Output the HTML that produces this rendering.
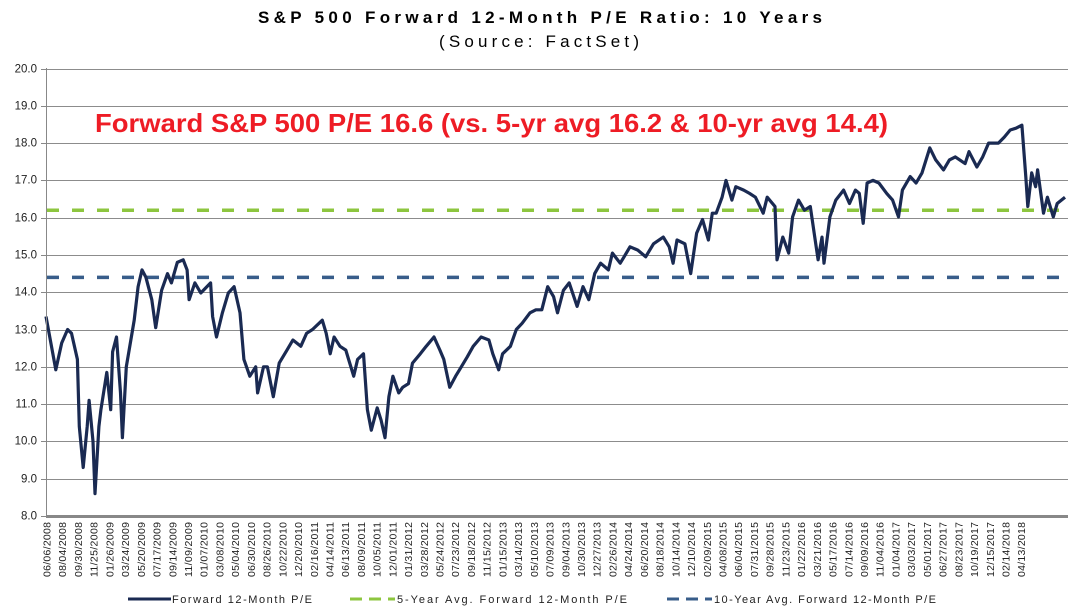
<!DOCTYPE html>
<html><head><meta charset="utf-8"><style>
body{margin:0;background:#fff;}
svg{display:block;font-family:"Liberation Sans",Arial,sans-serif;}
</style></head><body>
<svg id="chart" width="1078" height="615" viewBox="0 0 1078 615">
<text x="258" y="23" textLength="564" lengthAdjust="spacing" font-size="17" font-weight="bold" fill="#000">S&amp;P 500 Forward 12-Month P/E Ratio: 10 Years</text>
<text x="439" y="47" textLength="200" lengthAdjust="spacing" font-size="17" fill="#000">(Source: FactSet)</text>
<g id="grid"></g>
<g id="yticks"></g>
<g id="avgs"></g>
<path id="pe" fill="none" stroke="#1a2a52" stroke-width="3.2" stroke-linejoin="round"/>
<line x1="46" y1="516.5" x2="1068" y2="516.5" stroke="#888" stroke-width="3"/>
<line x1="46.5" y1="68" x2="46.5" y2="516" stroke="#888" stroke-width="1"/>
<g id="xlabels"></g>
<text x="95" y="132" textLength="793" lengthAdjust="spacingAndGlyphs" font-size="26" font-weight="bold" fill="#ee1c25">Forward S&amp;P 500 P/E 16.6 (vs. 5-yr avg 16.2 &amp; 10-yr avg 14.4)</text>
<g>
<g>
<line x1="128" y1="599" x2="171" y2="599" stroke="#1a2a52" stroke-width="3"/>
<text x="172" y="603" textLength="140" lengthAdjust="spacing" font-size="11" fill="#222">Forward 12-Month P/E</text></g>
<g>
<line x1="350" y1="599" x2="395" y2="599" stroke="#8dc63f" stroke-width="3" stroke-dasharray="12,7"/>
<text x="397" y="603" textLength="230" lengthAdjust="spacing" font-size="11" fill="#222">5-Year Avg. Forward 12-Month P/E</text></g>
<g>
<line x1="667" y1="599" x2="712" y2="599" stroke="#385d8a" stroke-width="3" stroke-dasharray="12,7"/>
<text x="714" y="603" textLength="222" lengthAdjust="spacing" font-size="11" fill="#222">10-Year Avg. Forward 12-Month P/E</text></g>
</g>
</svg>
<script>
const yTicks=[8,9,10,11,12,13,14,15,16,17,18,19,20];
const dateLabels=["06/06/2008","08/04/2008","09/30/2008","11/25/2008","01/26/2009","03/24/2009","05/20/2009","07/17/2009","09/14/2009","11/09/2009","01/07/2010","03/08/2010","05/04/2010","06/30/2010","08/26/2010","10/22/2010","12/20/2010","02/16/2011","04/14/2011","06/13/2011","08/09/2011","10/05/2011","12/01/2011","01/31/2012","03/28/2012","05/24/2012","07/23/2012","09/18/2012","11/15/2012","01/15/2013","03/14/2013","05/10/2013","07/09/2013","09/04/2013","10/30/2013","12/27/2013","02/26/2014","04/24/2014","06/20/2014","08/18/2014","10/14/2014","12/10/2014","02/09/2015","04/08/2015","06/04/2015","07/31/2015","09/28/2015","11/23/2015","01/22/2016","03/21/2016","05/17/2016","07/14/2016","09/09/2016","11/04/2016","01/04/2017","03/03/2017","05/01/2017","06/27/2017","08/23/2017","10/19/2017","12/15/2017","02/14/2018","04/13/2018"];
const weeks=[0,5,8,11,13,16,17,19,21,22,24,25,27,28,31,33,34,36,38,39,41,45,47,49,51,54,56,59,62,64,67,70,72,73,76,79,84,85,87,90,93,96,99,101,104,107,108,111,113,116,119,123,126,130,133,136,141,143,145,147,150,153,157,159,162,164,166,169,171,173,175,177,180,182,185,187,191,194,198,201,203,206,209,211,215,218,222,226,228,231,233,237,240,243,247,250,253,256,259,261,264,267,271,274,277,280,283,287,289,293,295,298,302,306,310,315,318,320,322,326,329,332,335,338,340,342,345,347,350,352,356,359,362,366,368,372,373,376,379,381,384,387,390,392,394,396,397,400,403,407,410,413,415,417,419,422,425,429,432,435,437,441,444,447,451,454,458,461,464,469,471,475,478,481,486,489,492,495,498,500,501,503,505,506,509,511,514,516,520];
const peValues=[13.35,11.92,12.64,13.0,12.9,12.2,10.4,9.3,10.4,11.1,10.0,8.6,10.4,10.85,11.85,10.85,12.4,12.8,11.3,10.1,12.0,13.25,14.15,14.6,14.4,13.8,13.05,14.05,14.5,14.25,14.8,14.87,14.6,13.8,14.25,13.98,14.25,13.35,12.8,13.45,13.98,14.15,13.45,12.2,11.75,12.0,11.3,12.0,12.0,11.2,12.1,12.45,12.72,12.55,12.9,13.0,13.25,12.9,12.35,12.8,12.55,12.45,11.75,12.2,12.35,10.85,10.3,10.9,10.57,10.1,11.2,11.75,11.3,11.45,11.55,12.1,12.35,12.55,12.8,12.45,12.2,11.45,11.75,11.92,12.27,12.55,12.8,12.72,12.35,11.92,12.35,12.55,13.0,13.17,13.45,13.53,13.53,14.15,13.88,13.45,14.05,14.25,13.62,14.15,13.8,14.5,14.78,14.6,15.05,14.78,14.95,15.22,15.13,14.95,15.3,15.48,15.22,14.78,15.4,15.3,14.5,15.58,15.95,15.4,16.12,16.12,16.55,17.0,16.47,16.83,16.74,16.65,16.55,16.12,16.55,16.3,14.87,15.48,15.05,16.02,16.47,16.2,16.3,15.58,14.87,15.48,14.78,16.02,16.47,16.74,16.38,16.74,16.65,15.85,16.93,17.0,16.93,16.65,16.47,16.02,16.74,17.1,16.93,17.2,17.87,17.55,17.28,17.55,17.63,17.45,17.77,17.36,17.63,18.0,18.0,18.16,18.35,18.4,18.48,17.1,16.3,17.2,16.83,17.28,16.12,16.55,16.02,16.38,16.55,16.6];
const avg5=16.2, avg10=14.4;

const NS="http://www.w3.org/2000/svg";
const X0=46,X1=1067,Y0=516,Y1=68.5,WMAX=521;
function xScale(w){return X0+(w/WMAX)*(X1-X0);}
function yScale(v){return Y0-(v-8)/(20-8)*(Y0-Y1);}
function labelX(i){return 47+i*(1021.7-47)/(dateLabels.length-1);}
function mk(tag,attrs,parent){const e=document.createElementNS(NS,tag);for(const k in attrs)e.setAttribute(k,attrs[k]);parent.appendChild(e);return e;}

const grid=document.getElementById('grid'),yt=document.getElementById('yticks');
yTicks.forEach(t=>{
  const y=Math.round(yScale(t))+0.5;
  if(t>8){const l=mk('line',{x1:X0,x2:1068,y1:y,y2:y,stroke:'#8c8c8c','stroke-width':1},grid);
  
  }
  const tk=mk('line',{x1:41,x2:46,y1:y,y2:y,stroke:'#888'},yt);
  
  
  const tx=mk('text',{x:37,y:y+3,'text-anchor':'end','font-size':11.5,fill:'#222'},yt);
  tx.textContent=t.toFixed(1);
  
  
});

const avgs=document.getElementById('avgs');
const a5=mk('line',{x1:X0+1,x2:1066,y1:yScale(avg5),y2:yScale(avg5),stroke:'#8dc63f','stroke-width':3.5,'stroke-dasharray':'12,13'},avgs);


const a10=mk('line',{x1:X0+1,x2:1066,y1:yScale(avg10),y2:yScale(avg10),stroke:'#385d8a','stroke-width':3.5,'stroke-dasharray':'12,13'},avgs);



let d='';
peValues.forEach((v,i)=>{d+=(i?'L':'M')+xScale(weeks[i]).toFixed(1)+','+yScale(v).toFixed(1);});
document.getElementById('pe').setAttribute('d',d);

const xl=document.getElementById('xlabels');
dateLabels.forEach((s,i)=>{
  const x=labelX(i);
  const t=mk('text',{x:0,y:0,'text-anchor':'end','font-size':10.5,textLength:55,lengthAdjust:'spacing',fill:'#222',transform:`translate(${(x+3.5).toFixed(1)},522) rotate(-90)`},xl);
  t.textContent=s;
  
  
});
</script>
</body></html>
